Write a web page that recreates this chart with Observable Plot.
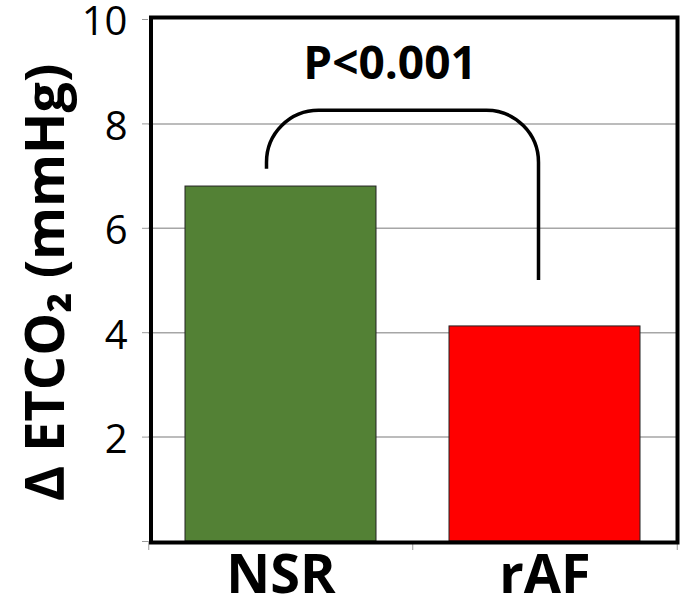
<!DOCTYPE html>
<html><head><meta charset="utf-8">
<script src="https://cdn.jsdelivr.net/npm/d3@7"></script>
<script src="https://cdn.jsdelivr.net/npm/@observablehq/plot@0.6"></script>
<style>html,body{margin:0;padding:0;background:#fff;color:#000} svg{display:block}</style>
</head><body><div id="chart"></div>
<script>
// ---- data ----
const categories = ["NSR", "rAF"];
const values = [6.8, 4.12];
const barColors = ["#538135", "#ff0000"];
const yTicks = [0, 2, 4, 6, 8, 10];
const gridTicks = [2, 4, 6, 8];
const yLabel = ["Δ ETCO₂ (mmHg)"];
const pLabel = ["P<0.001"];
const pLabelY = [9.14];
// significance bracket (y values): left leg start, top, right leg end
const bracketY = [7.13, 8.25, 5.0];

// ---- layout ----
const W = 681, H = 596;
const mL = 148, mR = 4, mT = 19, mB = 55;
const step = (W - mL - mR) / categories.length;

const table = categories.map((c, i) => ({cat: c, value: values[i]}));

function bracket(index, scales) {
  const x = scales.x, y = scales.y;
  const bw = typeof x.bandwidth === "function" ? x.bandwidth() : (x.bandwidth || 0);
  const x1 = x(categories[0]) + bw / 2 - 14;
  const x2 = x(categories[1]) + bw / 2 - 6;
  const y1 = y(bracketY[0]), yt = y(bracketY[1]), y2 = y(bracketY[2]);
  const r = 52;
  const p = document.createElementNS("http://www.w3.org/2000/svg", "path");
  p.setAttribute("d", `M${x1},${y1} V${yt + r} A${r},${r} 0 0 1 ${x1 + r},${yt} H${x2 - r} A${r},${r} 0 0 1 ${x2},${yt + r} V${y2}`);
  p.setAttribute("fill", "none");
  p.setAttribute("stroke", "#000");
  p.setAttribute("stroke-width", "3.5");
  return p;
}

const chart = Plot.plot({
  width: W, height: H,
  marginLeft: mL, marginRight: mR, marginTop: mT, marginBottom: mB,
  style: {fontFamily: "'Open Sans', sans-serif", background: "#fff", color: "#000"},
  x: {domain: categories, paddingInner: 0.275, paddingOuter: 0.1375, label: null, axis: null},
  y: {domain: [0, 10], label: null, axis: null},
  color: {domain: categories, range: barColors},
  marks: [
    Plot.gridY(gridTicks, {stroke: "#a6a6a6", strokeOpacity: 1, strokeWidth: 1.5}),
    Plot.barY(table, {x: "cat", y: "value", fill: "cat", stroke: "#222", strokeWidth: 1}),
    // y ticks (gray) and labels
    Plot.axisY(yTicks, {tickSize: 6, tickFormat: () => "", stroke: "#9a9a9a", label: null}),
    Plot.axisY(yTicks, {tickSize: 0, tickPadding: 21, dy: 3, tickFormat: d => d === 0 ? "" : d, fontSize: 40, label: null}),
    // x category labels
    Plot.axisX({tickSize: 0, tickPadding: 13, fontSize: 54, fontWeight: "bold", label: null}),
    // x boundary ticks
    Plot.axisX(categories, {tickSize: 9, tickFormat: () => "", stroke: "#9a9a9a", dx: -step / 2, label: null}),
    Plot.axisX([categories[categories.length - 1]], {tickSize: 9, tickFormat: () => "", stroke: "#9a9a9a", dx: step / 2, label: null}),
    Plot.frame({stroke: "#000", strokeWidth: 4, insetLeft: 2.5, insetTop: -2, insetBottom: -1}),
    bracket,
    Plot.text(pLabel, {y: pLabelY, text: d => d, dx: -23, fontSize: 46, fontWeight: "bold", lineAnchor: "middle", fill: "#000"}),
    Plot.text(yLabel, {frameAnchor: "left", text: d => d, dx: -102, dy: 2, rotate: -90, textAnchor: "middle", fontSize: 54, fontWeight: "bold", lineAnchor: "middle", fill: "#000"})
  ]
});
document.getElementById("chart").appendChild(chart);
</script>
</body></html>
